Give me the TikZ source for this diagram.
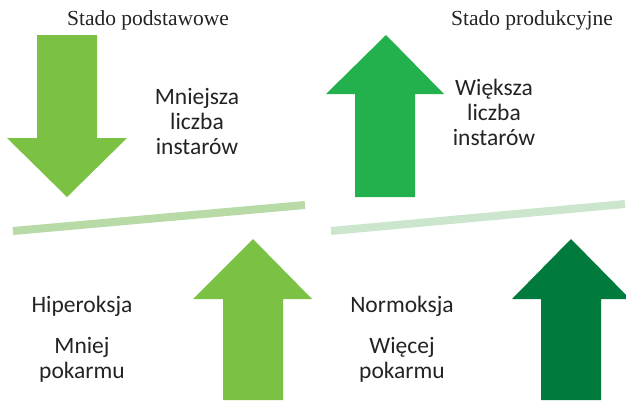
\documentclass[tikz,border=0pt]{standalone}
\usepackage{fontspec}
\setmainfont{Liberation Serif}
\newfontfamily\calibri{Carlito}
\usepackage{tikz}
\usetikzlibrary{positioning}
\definecolor{zielonyJasny}{RGB}{123,193,67}
\definecolor{zielonyMocny}{RGB}{34,177,76}
\definecolor{zielonyCiemny}{RGB}{0,122,61}
\definecolor{belkaLewa}{RGB}{184,218,166}
\definecolor{belkaPrawa}{RGB}{204,230,206}
\definecolor{tekst}{RGB}{35,35,35}

\begin{document}
\begin{tikzpicture}[x=1pt, y=-1pt,
  tytul/.style={font=\fontsize{21.5}{24}\selectfont, text=tekst, inner sep=0pt},
  opis/.style={font=\calibri\fontsize{23.5}{25}\selectfont, text=tekst, align=center, inner sep=0pt}]
  \useasboundingbox (0,0) rectangle (626,400);
  \clip (0,0) rectangle (626,400);
  % Titles
  \node[tytul] (podst) at (148,20) {Stado podstawowe};
  \node[tytul] (prod) at (532,20) {Stado produkcyjne};
  % Arrow down (left top)
  \fill[zielonyJasny] (37,35) -- (97,35) -- (97,138) -- (127,138)
    -- (67,197) -- (7,138) -- (37,138) -- cycle;
  % Arrow up (right top)
  \fill[zielonyMocny] (355,197) -- (415,197) -- (415,94) -- (444,94)
    -- (386,35) -- (326,94) -- (355,94) -- cycle;
  % Tilted bars
  \draw[belkaLewa, line width=8pt] (13,231) -- (305,205);
  \draw[belkaPrawa, line width=8pt] (331,231) -- (625,204);
  % Arrow up (left bottom)
  \fill[zielonyJasny] (223,400) -- (283,400) -- (283,299) -- (312,299)
    -- (253,239) -- (193,299) -- (223,299) -- cycle;
  % Arrow up (right bottom)
  \fill[zielonyCiemny] (541,400) -- (601,400) -- (601,299) -- (630,299)
    -- (571,239) -- (512,299) -- (541,299) -- cycle;
  % Labels
  \node[opis] (mniejsza) at (197,121) {Mniejsza\\liczba\\instarów};
  \node[opis] (wieksza) at (494,112) {Większa\\liczba\\instarów};
  \node[opis] (hiper) at (82,306) {Hiperoksja};
  \node[opis, below=21pt of hiper] (mniej) {Mniej\\pokarmu};
  \node[opis] (normo) at (402,306) {Normoksja};
  \node[opis, below=21pt of normo] (wiecej) {Więcej\\pokarmu};
\end{tikzpicture}
\end{document}
